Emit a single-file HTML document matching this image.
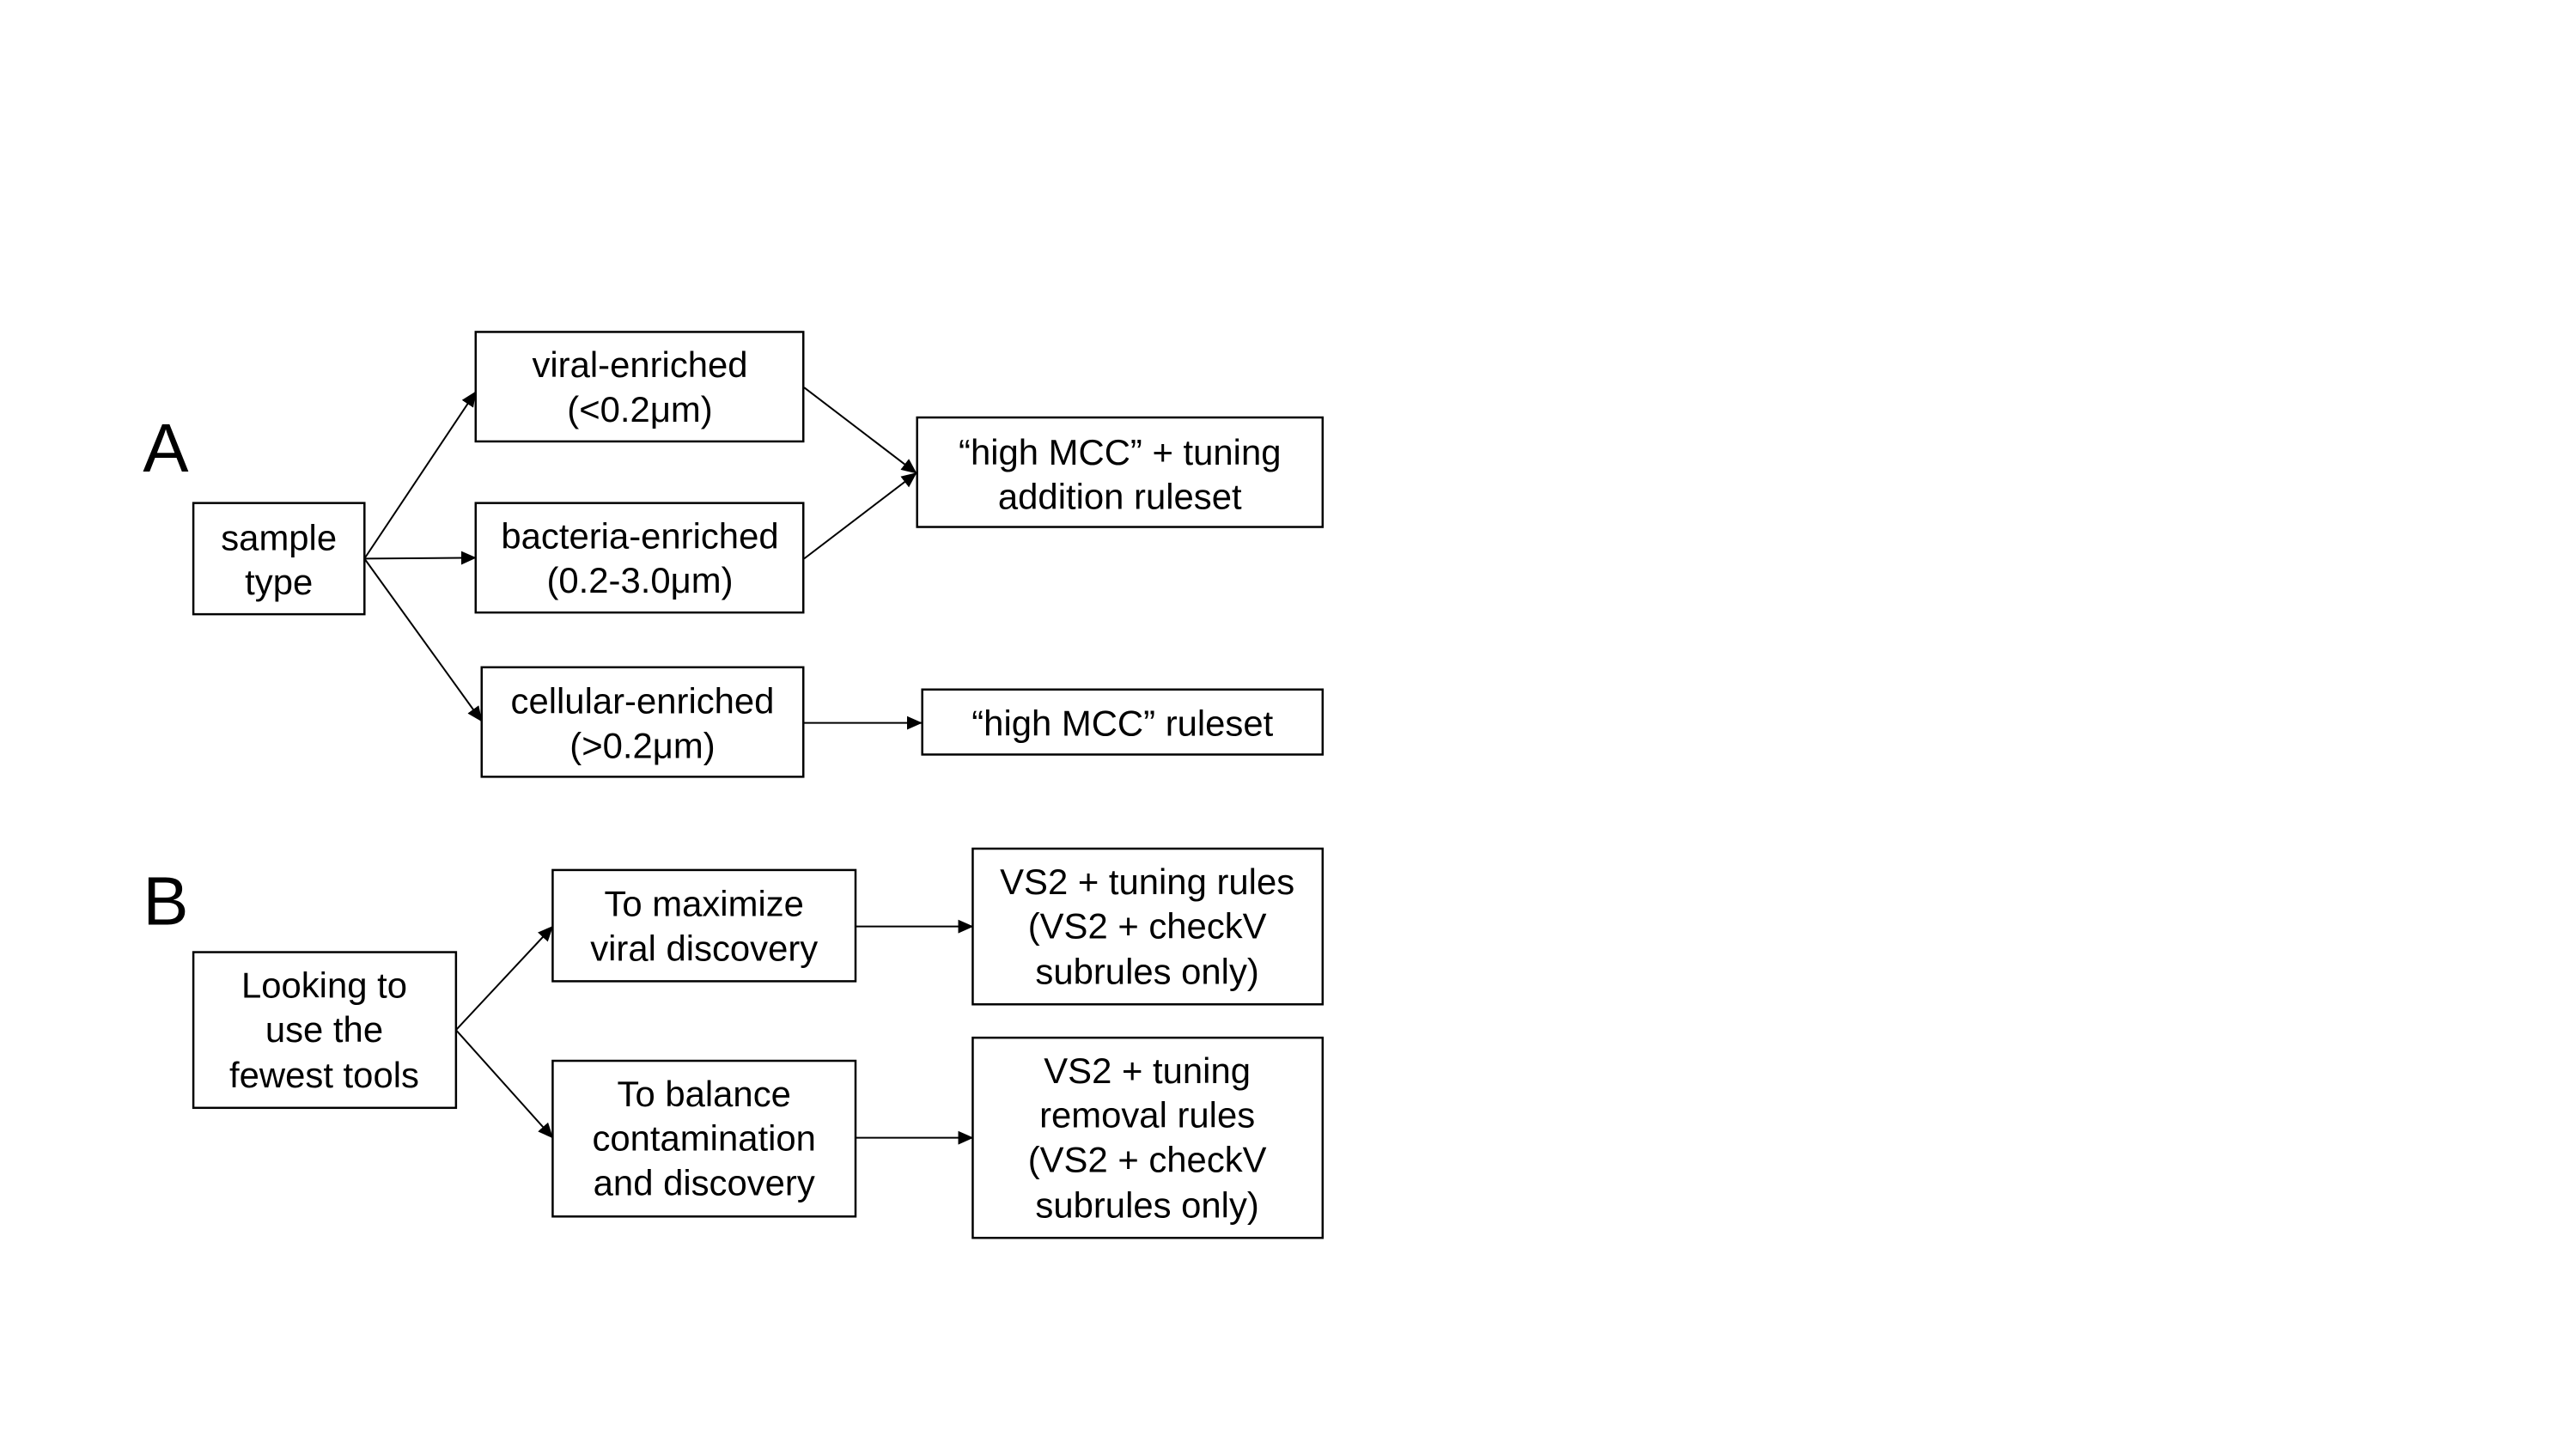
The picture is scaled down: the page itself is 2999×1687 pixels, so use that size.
<!DOCTYPE html>
<html><head><meta charset="utf-8"><style>
html,body{margin:0;padding:0;background:#fff;}
svg{display:block;}
text{font-family:"Liberation Sans",Arial,sans-serif;font-size:42px;fill:#000;text-anchor:middle;}
.lbl{font-size:80px;text-anchor:start;}
rect{fill:#fff;stroke:#000;stroke-width:2.5;}
line{stroke:#000;stroke-width:2;}
</style></head><body>
<svg width="2999" height="1687" viewBox="0 0 2999 1687" xmlns="http://www.w3.org/2000/svg">
<defs>
<marker id="b" markerWidth="18" markerHeight="16" refX="17" refY="8" orient="auto" markerUnits="userSpaceOnUse"><path d="M0,0 L18,8 L0,16 z" fill="#000"/></marker></defs>
<g transform="translate(1,-2) scale(0.996)">
<text class="lbl" x="166" y="553">A</text>
<text class="lbl" x="166" y="1083">B</text>

<line x1="425" y1="655" x2="555" y2="460" marker-end="url(#b)"/>
<line x1="425" y1="655" x2="555" y2="654" marker-end="url(#b)"/>
<line x1="425" y1="655" x2="562" y2="845" marker-end="url(#b)"/>
<line x1="939" y1="455" x2="1070" y2="555" marker-end="url(#b)"/>
<line x1="939" y1="655" x2="1070" y2="555" marker-end="url(#b)"/>
<line x1="939" y1="847" x2="1076" y2="847" marker-end="url(#b)"/>

<line x1="532" y1="1206" x2="645" y2="1085" marker-end="url(#b)"/>
<line x1="532" y1="1206" x2="645" y2="1332" marker-end="url(#b)"/>
<line x1="999" y1="1085" x2="1136" y2="1085" marker-end="url(#b)"/>
<line x1="999" y1="1332" x2="1136" y2="1332" marker-end="url(#b)"/>

<rect x="225" y="590" width="200" height="130"/>
<text x="325" y="645">sample</text><text x="325" y="697">type</text>

<rect x="555" y="390" width="383" height="128"/>
<text x="747" y="443">viral-enriched</text><text x="747" y="495">(&lt;0.2μm)</text>

<rect x="555" y="590" width="383" height="128"/>
<text x="747" y="643">bacteria-enriched</text><text x="747" y="695">(0.2-3.0μm)</text>

<rect x="562" y="782" width="376" height="128"/>
<text x="750" y="836">cellular-enriched</text><text x="750" y="888">(&gt;0.2μm)</text>

<rect x="1071" y="490" width="474" height="128"/>
<text x="1308" y="545">“high MCC” + tuning</text><text x="1308" y="597">addition ruleset</text>

<rect x="1077" y="808" width="468" height="76"/>
<text x="1311" y="862">“high MCC” ruleset</text>

<rect x="225" y="1115" width="307" height="182"/>
<text x="378" y="1168">Looking to</text><text x="378" y="1220">use the</text><text x="378" y="1273">fewest tools</text>

<rect x="645" y="1019" width="354" height="130"/>
<text x="822" y="1073">To maximize</text><text x="822" y="1125">viral discovery</text>

<rect x="645" y="1242" width="354" height="182"/>
<text x="822" y="1295">To balance</text><text x="822" y="1347">contamination</text><text x="822" y="1399">and discovery</text>

<rect x="1136" y="994" width="409" height="182"/>
<text x="1340" y="1047">VS2 + tuning rules</text><text x="1340" y="1099">(VS2 + checkV</text><text x="1340" y="1152">subrules only)</text>

<rect x="1136" y="1215" width="409" height="234"/>
<text x="1340" y="1268">VS2 + tuning</text><text x="1340" y="1320">removal rules</text><text x="1340" y="1372">(VS2 + checkV</text><text x="1340" y="1425">subrules only)</text>
</g>
</svg>
</body></html>
